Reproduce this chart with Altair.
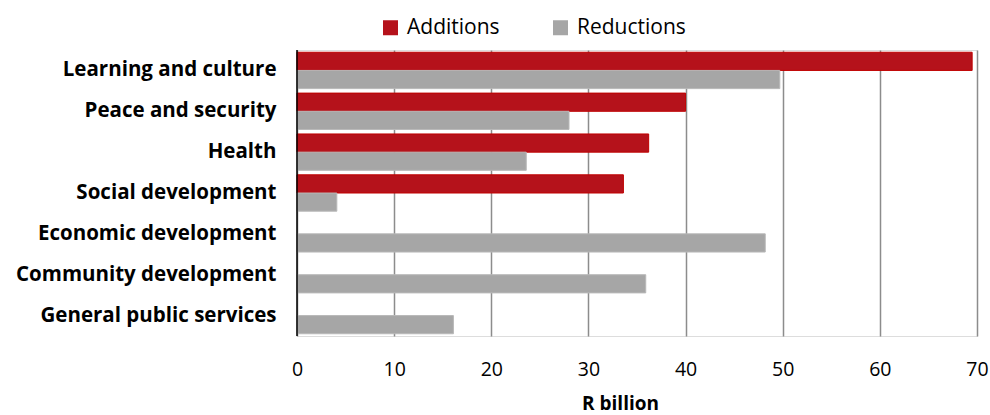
import altair as alt
import pandas as pd

categories = [
    "Learning and culture",
    "Peace and security",
    "Health",
    "Social development",
    "Economic development",
    "Community development",
    "General public services",
]
series_names = ["Additions", "Reductions"]
additions = [69.5, 40.0, 36.2, 33.6, 0.0, 0.0, 0.0]
reductions = [49.7, 28.0, 23.6, 4.1, 48.2, 35.9, 16.1]
x_ticks = [0, 10, 20, 30, 40, 50, 60, 70]
colors = ["#b5121b", "#a6a6a6"]
strokes = ["#c00000", "#b8b8b8"]

rows = []
for c, a, r in zip(categories, additions, reductions):
    rows.append({"category": c, "series": "Additions", "value": a})
    rows.append({"category": c, "series": "Reductions", "value": r})
df = pd.DataFrame(rows)

FONT = "Open Sans"

bars = (
    alt.Chart(df)
    .transform_filter(alt.datum.value > 0)
    .mark_bar(strokeWidth=1)
    .encode(
        y=alt.Y(
            "category:N",
            sort=categories,
            scale=alt.Scale(domain=categories, paddingInner=0.11, paddingOuter=0.055),
            axis=alt.Axis(
                title=None,
                ticks=False,
                labelFont=FONT,
                labelFontWeight="bold",
                labelFontSize=20.5,
                labelColor="#000000",
                labelPadding=21,
                labelLimit=400,
                domain=False,
                grid=False,
            ),
        ),
        yOffset=alt.YOffset(
            "series:N",
            sort=series_names,
            scale=alt.Scale(domain=series_names, paddingInner=0, paddingOuter=0),
        ),
        x=alt.X(
            "value:Q",
            scale=alt.Scale(domain=[0, 70], nice=False),
            axis=alt.Axis(
                values=x_ticks,
                title="R billion",
                titleFont=FONT,
                titleFontSize=19,
                titleFontWeight="bold",
                titleColor="#000000",
                titleX=323,
                titleY=67,
                titleAlign="center",
                titleBaseline="middle",
                labelFont=FONT,
                labelFontSize=19.5,
                labelColor="#000000",
                labelPadding=33,
                labelBaseline="middle",
                labelFlush=False,
                labelOverlap=False,
                ticks=False,
                domain=False,
                grid=True,
                gridColor="#8c8c8c",
                gridWidth=1.5,
            ),
        ),
        color=alt.Color(
            "series:N",
            sort=series_names,
            scale=alt.Scale(domain=series_names, range=colors),
            legend=alt.Legend(
                title=None,
                orient="none",
                direction="horizontal",
                legendX=83,
                legendY=-33,
                symbolType="square",
                symbolSize=225,
                symbolStrokeWidth=0,
                symbolOpacity=1,
                labelFont=FONT,
                labelFontSize=21,
                labelColor="#000000",
                labelOffset=6,
                columnPadding=50,
                padding=0,
            ),
        ),
        stroke=alt.Stroke(
            "series:N",
            sort=series_names,
            scale=alt.Scale(domain=series_names, range=strokes),
            legend=None,
        ),
    )
)

axis_line = (
    alt.Chart(pd.DataFrame({"zero": [0]}))
    .mark_rule(color="#000000", strokeWidth=1.5)
    .encode(x=alt.X("zero:Q"))
)

chart = (
    alt.layer(bars, axis_line)
    .properties(
        width=680,
        height=286,
        autosize=alt.AutoSizeParams(type="none"),
        padding={"left": 297, "top": 50, "right": 13, "bottom": 79},
    )
    .configure_view(stroke=None)
    .configure(background="#ffffff")
)

chart.save("out.html", embed_options={"renderer": "svg", "actions": False})
